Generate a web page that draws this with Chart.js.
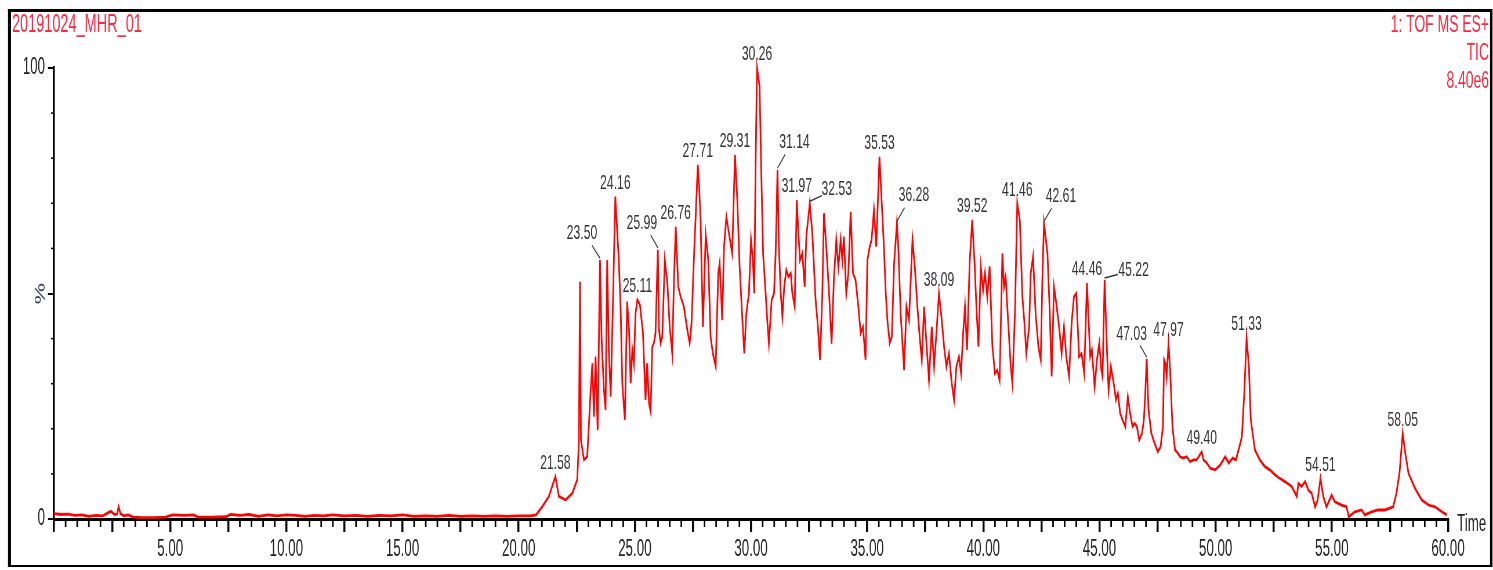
<!DOCTYPE html>
<html>
<head>
<meta charset="utf-8">
<title>20191024_MHR_01 TIC</title>
<script src="https://cdn.jsdelivr.net/npm/chart.js@4.4.1/dist/chart.umd.min.js"></script>
<style>
  html, body { margin: 0; padding: 0; background: #fff; overflow: hidden; }
  #wrap { width: 1493px; height: 570px; overflow: hidden; position: relative; }
  #tic { transform: scaleX(0.58003); transform-origin: 0 0; }
</style>
</head>
<body>
<div id="wrap"><canvas id="tic" width="2574" height="570" style="width:2574px;height:570px"></canvas></div>
<script>
// run / detector info
const runName = '20191024_MHR_01';
const headerLines = ['1: TOF MS ES+', 'TIC', '8.40e6'];

// TIC trace: [retention time (min), relative intensity (%)]
const tracePoints = [
  [0.00,1.2],[0.30,1.0],[0.60,1.1],[0.90,0.8],[1.20,0.9],[1.50,0.6],[1.80,0.8],[2.10,0.7],[2.30,1.3],[2.45,1.7],
  [2.60,1.0],[2.72,1.1],[2.78,2.7],[2.86,1.2],[3.00,0.7],[3.20,0.9],[3.40,0.4],[3.80,0.3],[4.30,0.3],[4.80,0.4],
  [5.10,0.9],[5.60,0.8],[6.00,0.9],[6.20,0.4],[6.80,0.4],[7.40,0.5],[7.60,1.0],[8.00,0.8],[8.40,1.0],[8.80,0.6],
  [9.20,0.9],[9.60,0.7],[10.00,0.9],[10.40,0.8],[10.80,0.6],[11.20,0.8],[11.60,0.7],[12.00,0.9],[12.50,0.7],[13.00,0.8],
  [13.50,0.6],[14.00,0.8],[14.50,0.7],[15.00,0.9],[15.50,0.6],[16.00,0.7],[16.50,0.6],[17.00,0.8],[17.50,0.6],[18.00,0.7],
  [18.50,0.6],[19.00,0.7],[19.50,0.6],[20.00,0.7],[20.50,0.7],[20.75,0.9],
  [21.01,2.7],[21.30,5.0],[21.58,9.4],[21.73,5.0],[22.02,4.2],[22.31,5.7],[22.52,8.7],[22.59,16.8],[22.64,52.6],[22.68,17.5],
  [22.81,13.1],[22.95,13.8],[23.10,28.6],[23.17,34.5],[23.24,22.7],[23.31,36.0],[23.40,19.7],[23.50,57.4],[23.57,39.7],[23.67,28.6],
  [23.74,24.2],[23.81,57.4],[23.88,37.5],[23.96,27.1],[24.03,41.9],[24.16,71.5],[24.31,57.4],[24.39,46.3],[24.46,30.1],[24.57,22.0],
  [24.67,48.2],[24.75,41.9],[24.82,30.1],[24.89,37.5],[24.96,34.5],[25.03,45.6],[25.11,48.6],[25.22,47.5],[25.35,41.2],[25.46,26.4],
  [25.53,34.5],[25.61,25.6],[25.68,23.8],[25.75,38.2],[25.82,39.0],[25.89,41.2],[25.99,59.7],[26.04,41.9],[26.11,39.0],[26.18,40.4],
  [26.29,57.4],[26.40,52.3],[26.50,42.7],[26.61,36.7],[26.68,52.3],[26.76,64.8],[26.87,51.5],[26.97,49.3],[27.11,47.1],[27.26,41.9],
  [27.36,39.0],[27.44,43.4],[27.54,57.4],[27.71,78.5],[27.76,74.4],[27.83,66.3],[27.93,42.6],[28.05,63.0],[28.16,57.5],[28.26,40.4],
  [28.36,36.7],[28.48,33.8],[28.59,54.5],[28.65,56.7],[28.76,44.1],[28.84,60.4],[28.94,67.0],[29.05,63.3],[29.19,58.9],[29.31,80.7],
  [29.41,70.7],[29.51,55.9],[29.63,44.1],[29.71,36.7],[29.80,45.6],[29.91,50.0],[30.00,61.9],[30.08,57.4],[30.14,50.0],[30.20,79.6],
  [30.26,100.0],[30.37,95.9],[30.43,79.6],[30.52,58.9],[30.63,50.0],[30.70,44.1],[30.77,38.9],[30.89,48.6],[30.99,50.0],[31.06,58.9],
  [31.14,77.4],[31.20,60.4],[31.28,50.0],[31.35,44.9],[31.43,51.5],[31.52,55.2],[31.61,53.7],[31.71,54.5],[31.78,50.0],[31.88,47.1],
  [31.97,70.7],[32.04,63.3],[32.11,57.4],[32.21,58.9],[32.31,51.5],[32.38,62.6],[32.53,70.0],[32.64,63.3],[32.78,48.6],[32.88,42.6],
  [32.97,35.3],[33.07,50.0],[33.14,67.8],[33.24,60.4],[33.36,50.0],[33.47,38.9],[33.57,53.7],[33.67,61.9],[33.76,55.9],[33.86,61.9],
  [33.93,57.4],[34.00,62.6],[34.10,50.0],[34.19,54.5],[34.29,68.1],[34.39,54.5],[34.50,53.0],[34.62,47.1],[34.72,41.2],[34.82,42.6],
  [34.93,35.3],[35.01,57.4],[35.11,60.4],[35.19,61.9],[35.29,68.5],[35.39,60.4],[35.53,80.3],[35.62,70.7],[35.72,60.4],[35.80,50.0],
  [35.87,44.1],[35.97,39.0],[36.06,40.4],[36.16,56.7],[36.28,65.6],[36.34,60.4],[36.44,45.6],[36.59,33.0],[36.69,47.1],[36.80,44.1],
  [36.95,61.9],[37.06,55.2],[37.16,47.1],[37.26,40.4],[37.35,35.3],[37.45,47.1],[37.55,39.0],[37.66,30.8],[37.78,42.6],[37.88,33.8],
  [37.98,41.2],[38.09,50.0],[38.21,44.1],[38.31,38.2],[38.41,33.8],[38.52,36.7],[38.64,30.1],[38.74,26.4],[38.84,33.8],[38.95,36.0],
  [39.04,32.3],[39.13,41.2],[39.21,47.1],[39.30,37.5],[39.41,56.7],[39.52,66.3],[39.63,56.0],[39.70,47.1],[39.79,38.2],[39.89,56.0],
  [39.99,50.8],[40.07,54.5],[40.17,49.3],[40.27,56.0],[40.39,38.2],[40.50,32.3],[40.60,33.0],[40.70,30.8],[40.82,58.9],[40.89,51.5],
  [40.96,53.7],[41.08,42.6],[41.18,33.8],[41.25,30.1],[41.36,45.6],[41.46,70.0],[41.57,66.3],[41.68,49.3],[41.77,43.4],[41.85,36.7],
  [41.97,42.6],[42.04,54.5],[42.14,58.2],[42.25,45.6],[42.37,38.2],[42.47,35.3],[42.54,53.0],[42.61,65.6],[42.76,58.9],[42.86,45.6],
  [42.94,31.6],[43.04,51.5],[43.14,47.8],[43.26,42.6],[43.37,36.7],[43.47,42.6],[43.57,36.0],[43.69,31.6],[43.80,43.4],[43.90,49.3],
  [44.00,50.0],[44.12,36.0],[44.23,36.7],[44.34,32.3],[44.46,52.3],[44.60,36.0],[44.67,37.5],[44.79,29.3],[44.89,35.3],[44.99,39.0],
  [45.08,33.0],[45.13,31.6],[45.22,53.0],[45.32,37.5],[45.39,28.6],[45.49,33.8],[45.61,30.1],[45.71,26.4],[45.79,27.9],[45.89,23.4],
  [45.99,22.0],[46.11,20.5],[46.22,27.1],[46.32,23.4],[46.42,20.5],[46.51,21.2],[46.61,20.5],[46.71,17.5],[46.83,19.0],[46.91,22.0],
  [46.97,27.9],[47.03,35.5],[47.11,24.2],[47.23,19.0],[47.37,16.8],[47.51,14.9],[47.63,16.0],[47.73,20.5],[47.78,35.3],[47.84,34.5],
  [47.89,31.6],[47.97,38.8],[48.04,33.0],[48.14,20.5],[48.25,15.3],[48.37,14.6],[48.47,13.8],[48.61,13.5],[48.75,13.8],[48.90,12.7],
  [49.04,13.1],[49.18,13.1],[49.40,14.9],[49.48,13.1],[49.62,12.4],[49.77,11.2],[49.98,10.9],[50.20,12.0],[50.41,13.8],[50.56,12.4],
  [50.73,13.5],[50.87,13.1],[51.02,16.0],[51.13,18.3],[51.23,27.9],[51.33,40.1],[51.43,33.8],[51.51,22.0],[51.69,15.3],[51.90,13.1],
  [52.12,11.6],[52.33,10.9],[52.55,9.8],[52.70,9.2],[52.98,8.3],[53.27,7.2],[53.49,5.0],[53.56,7.9],[53.70,7.2],[53.85,8.3],
  [53.99,6.4],[54.13,5.7],[54.28,2.7],[54.39,4.2],[54.51,9.0],[54.63,5.0],[54.77,2.7],[54.99,5.3],[55.13,3.8],[55.42,3.1],
  [55.63,2.7],[55.73,0.5],[55.99,1.6],[56.28,2.0],[56.42,0.9],[56.71,1.6],[56.99,2.0],[57.28,2.0],[57.64,2.7],[57.78,5.7],
  [57.91,10.1],[58.05,19.0],[58.16,14.6],[58.30,10.1],[58.58,6.8],[58.87,4.2],[59.16,3.1],[59.44,2.7],[59.73,1.6],[59.95,0.9]
];

// labelled peak apexes (min)
const peakTimes = [21.58, 23.50, 24.16, 25.11, 25.99, 26.76, 27.71, 29.31, 30.26, 31.14, 31.97, 32.53, 35.53,
  36.28, 38.09, 39.52, 41.46, 42.61, 44.46, 45.22, 47.03, 47.97, 49.40, 51.33, 54.51, 58.05];

// the reference picture is squeezed horizontally; draw wide and scale the canvas with css
const S = 1493 / 2574;
const sx = v => v / S;   // screen px -> canvas px (horizontal)
const FONT = '"Liberation Sans", Arial, sans-serif';
Chart.defaults.font.family = FONT;

// labels that sit off to one side with a short leader line: [dx, dy] in screen px
const leaders = {
  '23.50': [-18, -27], '25.99': [-16, -27], '31.14': [17, -28], '32.53': [27, -14],
  '36.28': [17, -28], '42.61': [17, -27], '45.22': [29, -10], '47.03': [-15, -25]
};

const decor = {
  id: 'decor',
  afterDraw(chart) {
    const { ctx, scales: { x, y } } = chart;
    ctx.save();

    // frame
    ctx.fillStyle = '#000';
    ctx.fillRect(sx(8), 9, sx(1484), 3);
    ctx.fillRect(sx(8), 565, sx(1484), 2);
    ctx.fillRect(sx(8), 9, sx(3), 558);
    ctx.fillRect(sx(1490), 9, sx(2.5), 558);

    // minor x ticks every 0.5 min
    ctx.strokeStyle = '#000';
    ctx.lineWidth = sx(1.6);
    for (let t = 0.5; t < 60; t += 0.5) {
      if (t % 2.5 === 0) continue;
      const X = x.getPixelForValue(t);
      ctx.beginPath();
      ctx.moveTo(X, y.bottom);
      ctx.lineTo(X, y.bottom + 8);
      ctx.stroke();
    }
    // tiny y ticks every 10 %
    ctx.lineWidth = 1.5;
    for (let p = 10; p < 100; p += 10) {
      if (p === 50) continue;
      const Y = y.getPixelForValue(p);
      ctx.beginPath();
      ctx.moveTo(x.left, Y);
      ctx.lineTo(x.left - sx(3), Y);
      ctx.stroke();
    }

    // header texts
    ctx.fillStyle = '#ff2840';
    ctx.font = '25px ' + FONT;
    ctx.textBaseline = 'alphabetic';
    ctx.textAlign = 'left';
    ctx.fillText(runName, sx(12), 32);
    ctx.font = '24px ' + FONT;
    ctx.textAlign = 'right';
    headerLines.forEach((s, i) => ctx.fillText(s, sx(1489), 32 + i * 28));

    // axis words
    ctx.fillStyle = '#222';
    ctx.font = '23px ' + FONT;
    ctx.textAlign = 'left';
    ctx.textBaseline = 'middle';
    ctx.fillText('Time', sx(1457), 525);
    ctx.save();
    ctx.translate(sx(41), y.getPixelForValue(50));
    ctx.rotate(-Math.PI / 2);
    ctx.fillStyle = '#3a3a60';
    ctx.font = '24px ' + FONT;
    ctx.textAlign = 'center';
    ctx.fillText('%', 0, 0);
    ctx.restore();

    // peak labels
    ctx.font = '21px ' + FONT;
    ctx.fillStyle = '#333';
    ctx.strokeStyle = '#333';
    ctx.lineWidth = 1.4;
    ctx.textAlign = 'center';
    ctx.textBaseline = 'middle';
    peakTimes.forEach(t => {
      let top = 0;
      tracePoints.forEach(([tt, v]) => { if (Math.abs(tt - t) <= 0.06 && v > top) top = v; });
      const X = x.getPixelForValue(t);
      const Y = y.getPixelForValue(top);
      const lab = t.toFixed(2);
      const off = leaders[lab];
      if (off) {
        const [dx, dy] = off;
        ctx.fillText(lab, X + sx(dx), Y + dy);
        ctx.beginPath();
        ctx.moveTo(X + sx(dx * 0.45), Y + dy * 0.55);
        ctx.lineTo(X, Y - 2);
        ctx.stroke();
      } else {
        ctx.fillText(lab, X, Y - 13.5);
      }
    });
    ctx.restore();
  }
};

new Chart(document.getElementById('tic'), {
  type: 'line',
  data: {
    datasets: [{
      data: tracePoints.map(([t, v]) => ({ x: t, y: v })),
      borderColor: '#ff0000',
      borderWidth: 2.8,
      pointRadius: 0,
      tension: 0,
      fill: false,
      clip: false
    }]
  },
  options: {
    responsive: false,
    devicePixelRatio: 1,
    animation: false,
    layout: { padding: { left: 0, right: 2574 - sx(1448), top: 68, bottom: 0 } },
    plugins: { legend: { display: false }, tooltip: { enabled: false } },
    scales: {
      x: {
        type: 'linear',
        min: 0,
        max: 60,
        afterFit(s) { s.height = 51; },
        border: { color: '#000', width: 3 },
        grid: { drawOnChartArea: false, color: '#000', lineWidth: sx(2), tickLength: 13 },
        ticks: {
          stepSize: 2.5,
          autoSkip: false,
          maxRotation: 0,
          color: '#222',
          font: { size: 23 },
          padding: 4,
          callback: v => (v > 0 && v % 5 === 0) ? v.toFixed(2) : ''
        }
      },
      y: {
        min: 0,
        max: 100,
        afterFit(s) { s.width = sx(54); },
        border: { color: '#000', width: sx(2) },
        grid: { drawOnChartArea: false, color: '#000', lineWidth: 2, tickLength: sx(6) },
        ticks: {
          stepSize: 50,
          color: '#222',
          font: { size: 23 },
          padding: sx(3),
          callback: v => v === 50 ? '' : v
        }
      }
    }
  },
  plugins: [decor]
});
</script>
</body>
</html>
